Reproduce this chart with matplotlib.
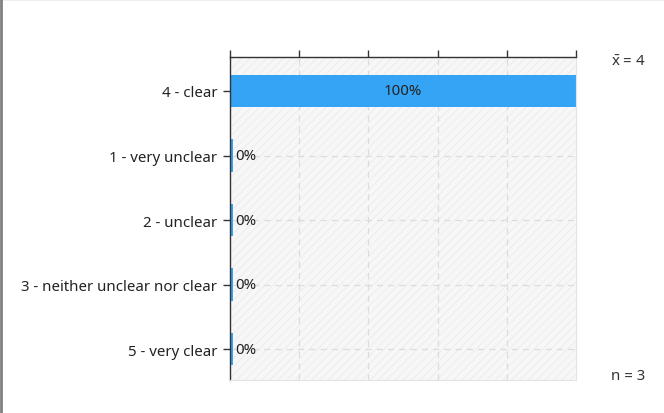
import matplotlib
matplotlib.use("Agg")
import matplotlib.pyplot as plt
from matplotlib.patches import Rectangle
from matplotlib.lines import Line2D

categories = ["4 - clear", "1 - very unclear", "2 - unclear",
              "3 - neither unclear nor clear", "5 - very clear"]
values = [100, 0, 0, 0, 0]
mean_text = r"$\bar{\mathrm{x}}$ = 4"
n_text = "n = 3"

plt.rcParams['font.family'] = ['Noto Sans', 'DejaVu Sans']
plt.rcParams['hatch.linewidth'] = 0.6
plt.rcParams['mathtext.fontset'] = 'custom'
plt.rcParams['mathtext.rm'] = 'Noto Sans'
plt.rcParams['mathtext.it'] = 'Noto Sans'

fs = 10.8

fig = plt.figure(figsize=(6.64, 4.14), dpi=100)
ax = fig.add_axes([230/664, 1-381/414, 346/664, (381-58)/414])

n = len(categories)
ypos = list(range(n))
ax.set_xlim(0, 100)
ax.set_ylim(4.48, -0.527)

# background with hatch
ax.set_facecolor('#f7f7f7')
bg = Rectangle((0, 0), 1, 1, transform=ax.transAxes, facecolor='#f7f7f7',
               edgecolor='#ebebeb', hatch='////', linewidth=0, zorder=0)
ax.add_patch(bg)

# grid
for x in [20, 40, 60, 80]:
    ax.axvline(x, color='#dcdcdc', linestyle=(0, (5, 4)), linewidth=0.9, zorder=1)
for y in ypos:
    ax.axhline(y, color='#dcdcdc', linestyle=(0, (5, 4)), linewidth=0.9, zorder=1)

min_w = 0.8
widths = [max(v, min_w) for v in values]
ax.barh(ypos, widths, height=0.5, color='#35a4f4', zorder=2)

for y, v in zip(ypos, values):
    if v >= 50:
        ax.text(v/2, y, f"{v}%", ha='center', va='center', fontsize=fs,
                color='#222222', zorder=3)
    else:
        ax.text(v + 1.6, y, f"{v}%", ha='left', va='center', fontsize=fs,
                color='#222222', zorder=3)

ax.set_yticks(ypos)
ax.set_yticklabels(categories, fontsize=fs, color='#222222')
ax.xaxis.tick_top()
ax.set_xticks([0, 20, 40, 60, 80, 100])
ax.set_xticklabels([])
ax.tick_params(axis='x', direction='out', length=5, width=1, color='#333333')
ax.tick_params(axis='y', direction='out', length=5, width=1, color='#333333', pad=4)

ax.spines['left'].set_color('#333333')
ax.spines['top'].set_color('#333333')
ax.spines['left'].set_linewidth(1)
ax.spines['top'].set_linewidth(1)
ax.spines['right'].set_color('#e4e4e4')
ax.spines['bottom'].set_color('#e4e4e4')

fig.text(628/664, 1-63/414, mean_text, ha='center', va='center', fontsize=fs, color='#333333')
fig.text(628/664, 1-377/414, n_text, ha='center', va='center', fontsize=fs, color='#333333')

# outer frame
fig.add_artist(Line2D([0, 1], [0.9988, 0.9988], transform=fig.transFigure, color='#b0b0b0', linewidth=1))
fig.add_artist(Line2D([0.0015, 0.0015], [0, 1], transform=fig.transFigure, color='#808080', linewidth=2))

fig.savefig('out.png', dpi=100)
